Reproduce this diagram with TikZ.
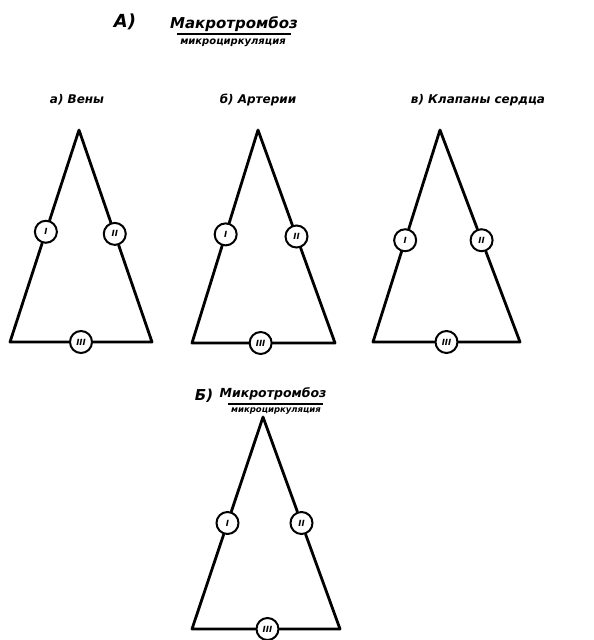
\documentclass[tikz,border=0pt]{standalone}
\usepackage{fontspec}
\setmainfont{DejaVu Sans}
\usetikzlibrary{calc}
\tikzset{leg/.style={line width=2.8pt,line cap=round,line join=round},
  valve/.style={draw,circle,line width=2pt,fill=white,minimum size=22pt,
    inner sep=0pt,font=\fontsize{8.5}{8.5}\selectfont\bfseries\itshape},
  title/.style={font=\fontsize{15}{15}\selectfont\bfseries\itshape,inner sep=0pt},
  sub/.style={font=\fontsize{10}{10}\selectfont\bfseries\itshape,inner sep=0pt},
  head/.style={font=\fontsize{12}{12}\selectfont\bfseries\itshape,inner sep=0pt},
  bar/.style={line width=1.6pt}}

\begin{document}
\begin{tikzpicture}[x=1pt,y=-1pt]
\useasboundingbox (0,0) rectangle (594,640);
% A) macrothrombosis
\node[title,font=\fontsize{18}{18}\selectfont\bfseries\itshape] (lA) at (125,22) {А)};
\node[title] (numA) at (234,24) {Макротромбоз};
\node[sub] (denA) at (233,43) {микроциркуляция};
\coordinate (barAl) at (177,34);
\coordinate (barAr) at (291,34);
\draw[bar] (barAl) -- (barAr);
% a) veins
\node[head] (hVeins) at (77,100) {а) Вены};
\coordinate (topV) at (79,130);
\coordinate (blV) at (10,342);
\coordinate (brV) at (152,342);
\node[valve] (vV1) at ($(topV)!0.48!(blV)$) {I};
\node[valve] (vV2) at ($(topV)!0.49!(brV)$) {II};
\node[valve] (vV3) at ($(blV)!0.5!(brV)$) {III};
\draw[leg] (topV) -- (vV1) (vV1) -- (blV) -- (vV3) (vV3) -- (brV) -- (vV2) (vV2) -- (topV);
% b) arteries
\node[head] (hArt) at (258,100) {б) Артерии};
\coordinate (topA) at (258,130);
\coordinate (blA) at (192,343);
\coordinate (brA) at (335,343);
\node[valve] (vA1) at ($(topA)!0.49!(blA)$) {I};
\node[valve] (vA2) at ($(topA)!0.5!(brA)$) {II};
\node[valve] (vA3) at ($(blA)!0.48!(brA)$) {III};
\draw[leg] (topA) -- (vA1) (vA1) -- (blA) -- (vA3) (vA3) -- (brA) -- (vA2) (vA2) -- (topA);
% c) heart valves
\node[head] (hHeart) at (478,100) {в) Клапаны сердца};
\coordinate (topH) at (440,130);
\coordinate (blH) at (373,342);
\coordinate (brH) at (520,342);
\node[valve] (vH1) at ($(topH)!0.52!(blH)$) {I};
\node[valve] (vH2) at ($(topH)!0.52!(brH)$) {II};
\node[valve] (vH3) at ($(blH)!0.5!(brH)$) {III};
\draw[leg] (topH) -- (vH1) (vH1) -- (blH) -- (vH3) (vH3) -- (brH) -- (vH2) (vH2) -- (topH);
% B) microthrombosis
\node[title] (lB) at (204,396) {Б)};
\node[title,font=\fontsize{12.5}{12.5}\selectfont\bfseries\itshape] (numB) at (273,394) {Микротромбоз};
\coordinate (barBl) at (228,404);
\coordinate (barBr) at (323,404);
\draw[bar] (barBl) -- (barBr);
\coordinate (topM) at (263,417);
\coordinate (blM) at (192,629);
\coordinate (brM) at (340,629);
\node[valve] (vM1) at ($(topM)!0.5!(blM)$) {I};
\node[valve] (vM2) at ($(topM)!0.5!(brM)$) {II};
\node[valve] (vM3) at ($(blM)!0.51!(brM)$) {III};
\draw[leg] (topM) -- (vM1) (vM1) -- (blM) -- (vM3) (vM3) -- (brM) -- (vM2) (vM2) -- (topM);
\node[sub,font=\fontsize{8.5}{8.5}\selectfont\bfseries\itshape] (denB) at (276,411) {микроциркуляция};
\end{tikzpicture}
\end{document}
